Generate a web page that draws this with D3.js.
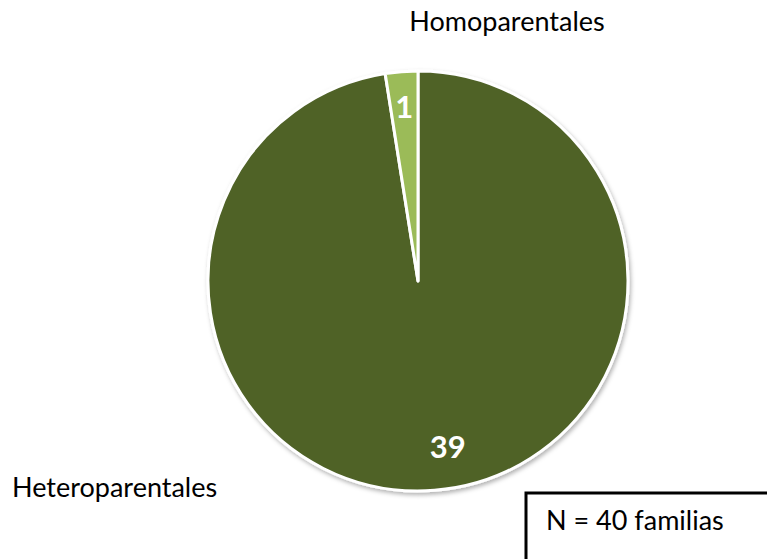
<!DOCTYPE html>
<html>
<head>
<meta charset="utf-8">
<script src="https://cdn.jsdelivr.net/npm/d3@7"></script>
<style>
  body { margin: 0; background: #fff; }
  svg { display: block; font-family: Lato, sans-serif; }
</style>
</head>
<body>
<script>
// datos
const categories = ['Heteroparentales', 'Homoparentales'];
const values = [39, 1];
const colors = ['#4f6228', '#9bbb59'];

const width = 767;
const height = 559;
const cx = 418, cy = 281, radius = 210;

let svg = d3.select('body')
  .append('svg')
  .attr('width', width)
  .attr('height', height);

// sombra suave
let defs = svg.append('defs');
let filter = defs.append('filter')
  .attr('id', 'shadow')
  .attr('x', '-10%').attr('y', '-10%')
  .attr('width', '120%').attr('height', '120%');
filter.append('feDropShadow')
  .attr('dx', 1.5).attr('dy', 2.5)
  .attr('stdDeviation', 2)
  .attr('flood-color', '#000')
  .attr('flood-opacity', 0.3);

let pie = d3.pie().sort(null).value(function (d) { return d; });
let arcs = pie(values);

let arc = d3.arc().innerRadius(0).outerRadius(radius);
let labelArc = d3.arc().innerRadius(radius * 0.83).outerRadius(radius * 0.83);

let g = svg.append('g')
  .attr('transform', 'translate(' + cx + ',' + cy + ')');

g.append('g')
  .attr('filter', 'url(#shadow)')
  .selectAll('path')
  .data(arcs)
  .enter()
  .append('path')
  .attr('d', arc)
  .style('fill', function (d, i) { return colors[i]; })
  .style('stroke', '#fff')
  .style('stroke-width', 3)
  .style('stroke-linejoin', 'round');

// etiquetas de valor
g.selectAll('.val')
  .data(arcs)
  .enter()
  .append('text')
  .attr('class', 'val')
  .attr('transform', function (d, i) {
    let c = labelArc.centroid(d);
    if (i === 0) { c[0] += 16; c[1] -= 8; } // ajuste tipo Excel
    return 'translate(' + c[0] + ',' + c[1] + ')';
  })
  .attr('text-anchor', 'middle')
  .attr('dy', '0.35em')
  .style('fill', '#fff')
  .style('font-weight', 'bold')
  .style('font-size', '31px')
  .text(function (d) { return d.data; });

// nombres de categoria
svg.append('text')
  .attr('x', 507)
  .attr('y', 31)
  .attr('text-anchor', 'middle')
  .style('font-size', '27px')
  .style('fill', '#000')
  .text(categories[1]);

svg.append('text')
  .attr('x', 12)
  .attr('y', 497)
  .style('font-size', '27px')
  .style('fill', '#000')
  .text(categories[0]);

// cuadro N
svg.append('rect')
  .attr('x', 526)
  .attr('y', 493)
  .attr('width', 260)
  .attr('height', 100)
  .style('fill', '#fff')
  .style('stroke', '#000')
  .style('stroke-width', 3);

svg.append('text')
  .attr('x', 546)
  .attr('y', 530)
  .style('font-size', '27px')
  .style('fill', '#000')
  .text('N = 40 familias');
</script>
</body>
</html>
